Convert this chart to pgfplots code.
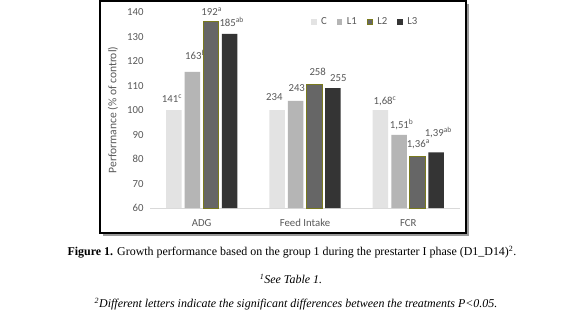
\documentclass[border=0pt]{standalone}
\usepackage{pgfplots}
\pgfplotsset{compat=1.18}
\usepackage{fontspec}
\setmainfont{Liberation Serif}
\newfontfamily\chartfont{Carlito}
\definecolor{txt}{HTML}{595959}
\definecolor{cC}{HTML}{E3E3E3}
\definecolor{cLa}{HTML}{B5B5B5}
\definecolor{cLb}{HTML}{666666}
\definecolor{cLc}{HTML}{343434}
\definecolor{olive2}{HTML}{7A7A1E}
\newcommand{\cf}{\chartfont\fontsize{10.8}{12}\selectfont\color{txt}}
\begin{document}
\begin{tikzpicture}[x=1bp,y=1bp]
\path[use as bounding box] (0,0) rectangle (583,-327);
% shadow and frame
\fill[black!40] (103,-4) rectangle (469,-236);
\fill[white] (100,-1) rectangle (466,-233);
\draw[black, line width=1.2bp] (100,-1) rectangle (466,-233);
\node[rotate=90, font=\chartfont\fontsize{11.6}{13}\selectfont\color{txt}] at (113,-110) {Performance (\% of control)};
\coordinate (A) at (150,-208);
\begin{axis}[
  at={(A)}, anchor=south west,
  scale only axis, width=310bp, height=195.7bp,
  xmin=-0.5, xmax=2.5, ymin=60, ymax=140,
  ybar, bar width=15.5bp,
  clip mode=individual,
  axis line style={draw=none},
  axis x line*=bottom,
  x axis line style={draw=black!15, line width=0.8bp},
  axis y line*=left,
  y axis line style={draw=none},
  xtick={0,1,2}, xticklabels={ADG,Feed Intake,FCR},
  ytick={60,70,...,140},
  major tick length=0pt,
  /pgf/number format/assume math mode=true,
  tick label style={font=\cf},
  yticklabel style={xshift=-3bp},
  xticklabel style={yshift=-8bp},
  legend columns=4,
  legend style={draw=none, fill=none, font=\cf, at={(axis description cs:0.519,0.95)}, anchor=west,
    /tikz/every even column/.append style={column sep=8bp}, inner sep=0pt,
    /tikz/every odd column/.append style={column sep=2.5bp}},
  legend image code/.code={\path[#1, line width=0.7bp] (0bp,-2.7bp) rectangle (5.5bp,2.7bp);},
]
\addplot[fill=cC, draw=none, bar shift=-27.9bp] coordinates {(0,100) (1,100) (2,100)};
\addplot[fill=cLa, draw=none, bar shift=-9.3bp] coordinates {(0,115.6) (1,103.8) (2,89.9)};
\node[font=\cf, anchor=west, inner sep=0pt] at (axis cs:-0.161,122.5) {163\textsuperscript{b}};
\addplot[fill=cLb, draw=olive2, line width=1bp, bar shift=9.3bp] coordinates {(0,136.2) (1,110.3) (2,81.0)};
\addplot[fill=cLc, draw=none, bar shift=27.9bp] coordinates {(0,131.2) (1,109.0) (2,82.7)};
\legend{C,L1,L2,L3}
\node[font=\cf] at (axis cs:-0.287,104.6) {141\textsuperscript{c}};
\node[font=\cf] at (axis cs:0.097,140.1) {192\textsuperscript{a}};
\node[font=\cf] at (axis cs:0.291,136) {185\textsuperscript{ab}};
\node[font=\cf] at (axis cs:0.703,105.4) {234};
\node[font=\cf] at (axis cs:0.92,109.05) {243};
\node[font=\cf] at (axis cs:1.123,115.6) {258};
\node[font=\cf] at (axis cs:1.323,113.1) {255};
\node[font=\cf] at (axis cs:1.774,103.7) {1,68\textsuperscript{c}};
\node[font=\cf] at (axis cs:1.935,94.3) {1,51\textsuperscript{b}};
\node[font=\cf] at (axis cs:2.097,86.2) {1,36\textsuperscript{a}};
\node[font=\cf] at (axis cs:2.29,91) {1,39\textsuperscript{ab}};
\end{axis}
\node[font=\fontsize{12}{14}\selectfont] at (292,-252) {\textbf{Figure 1.} Growth performance based on the group 1 during the prestarter I phase (D1\_D14)\textsuperscript{2}.};
\node[font=\fontsize{12}{14}\selectfont\itshape] at (291,-279) {\textsuperscript{1}See Table 1.};
\node[font=\fontsize{12}{14}\selectfont\itshape] at (296,-304) {\textsuperscript{2}Different letters indicate the significant differences between the treatments \textit{P}<0.05.};
\end{tikzpicture}
\end{document}
